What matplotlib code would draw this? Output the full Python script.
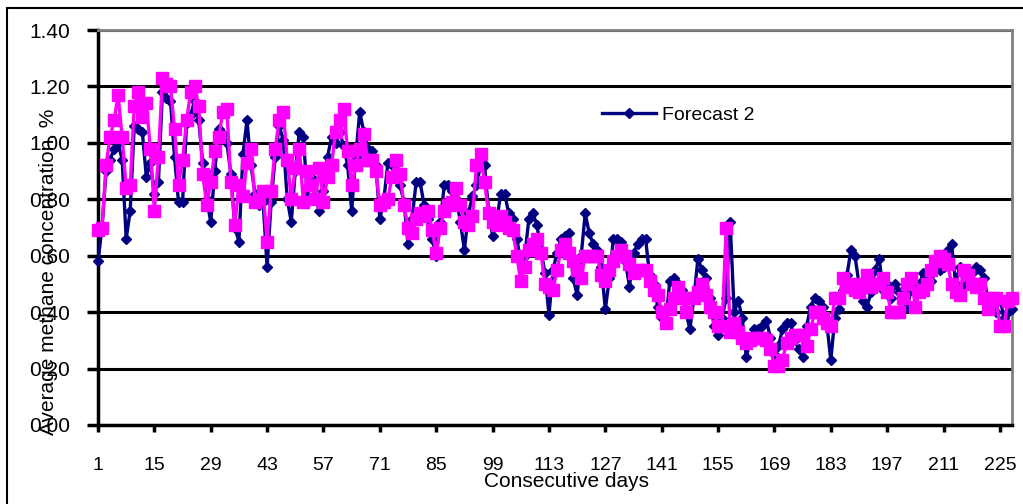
import matplotlib
matplotlib.use("Agg")
import matplotlib.pyplot as plt
import numpy as np
from matplotlib.patches import Rectangle

plt.rcParams["font.family"] = ["Liberation Sans", "DejaVu Sans"]

# values, one per day (days 1..228)
forecast_2 = [
    0.58, 0.70, 0.90, 0.94, 0.98, 1.00, 0.94, 0.66, 0.76, 1.06,
    1.05, 1.04, 0.88, 0.93, 0.82, 0.86, 1.18, 1.16, 1.15, 0.95,
    0.79, 0.79, 1.07, 1.10, 1.15, 1.08, 0.93, 0.80, 0.72, 0.90,
    1.05, 1.03, 1.00, 0.89, 0.70, 0.65, 0.96, 1.08, 0.92, 0.82,
    0.78, 0.79, 0.56, 0.79, 0.95, 1.06, 1.01, 0.80, 0.72, 0.90,
    1.04, 1.02, 0.81, 0.88, 0.80, 0.76, 0.83, 0.95, 1.02, 1.00,
    1.04, 0.99, 0.92, 0.76, 0.95, 1.11, 1.04, 0.98, 0.97, 0.92,
    0.73, 0.80, 0.93, 0.92, 0.94, 0.85, 0.79, 0.64, 0.73, 0.86,
    0.86, 0.78, 0.73, 0.66, 0.60, 0.72, 0.85, 0.85, 0.83, 0.80,
    0.72, 0.62, 0.75, 0.81, 0.85, 0.92, 0.92, 0.76, 0.67, 0.72,
    0.82, 0.82, 0.75, 0.73, 0.66, 0.58, 0.60, 0.73, 0.75, 0.71,
    0.62, 0.54, 0.39, 0.55, 0.61, 0.66, 0.67, 0.68, 0.52, 0.46,
    0.60, 0.75, 0.68, 0.64, 0.62, 0.56, 0.41, 0.52, 0.66, 0.66,
    0.65, 0.58, 0.49, 0.61, 0.64, 0.66, 0.66, 0.53, 0.50, 0.42,
    0.38, 0.36, 0.51, 0.52, 0.50, 0.48, 0.40, 0.34, 0.45, 0.59,
    0.55, 0.52, 0.45, 0.35, 0.32, 0.38, 0.45, 0.72, 0.40, 0.44,
    0.38, 0.24, 0.30, 0.34, 0.34, 0.35, 0.37, 0.31, 0.25, 0.28,
    0.34, 0.36, 0.36, 0.30, 0.27, 0.24, 0.35, 0.42, 0.45, 0.44,
    0.42, 0.36, 0.23, 0.38, 0.41, 0.48, 0.53, 0.62, 0.60, 0.50,
    0.44, 0.42, 0.47, 0.55, 0.59, 0.48, 0.50, 0.45, 0.50, 0.47,
    0.46, 0.42, 0.48, 0.50, 0.50, 0.54, 0.52, 0.51, 0.55, 0.55,
    0.56, 0.62, 0.64, 0.50, 0.56, 0.50, 0.52, 0.54, 0.56, 0.55,
    0.52, 0.45, 0.43, 0.40, 0.45, 0.38, 0.40, 0.41,
]

second_series = [
    0.69, 0.70, 0.92, 1.02, 1.08, 1.17, 1.02, 0.84, 0.85, 1.13,
    1.18, 1.09, 1.14, 0.98, 0.76, 0.95, 1.23, 1.21, 1.20, 1.05,
    0.85, 0.94, 1.08, 1.18, 1.20, 1.13, 0.89, 0.78, 0.86, 0.97,
    1.02, 1.11, 1.12, 0.86, 0.71, 0.85, 0.81, 0.93, 0.98, 0.79,
    0.80, 0.83, 0.65, 0.83, 0.98, 1.08, 1.11, 0.94, 0.80, 0.91,
    0.98, 0.79, 0.90, 0.85, 0.80, 0.91, 0.79, 0.88, 0.92, 1.04,
    1.08, 1.12, 0.97, 0.85, 0.92, 0.98, 1.03, 0.94, 0.94, 0.90,
    0.78, 0.79, 0.80, 0.88, 0.94, 0.89, 0.78, 0.70, 0.68, 0.73,
    0.75, 0.74, 0.76, 0.69, 0.61, 0.70, 0.76, 0.78, 0.79, 0.84,
    0.78, 0.72, 0.71, 0.74, 0.92, 0.96, 0.86, 0.75, 0.72, 0.71,
    0.74, 0.72, 0.70, 0.69, 0.60, 0.51, 0.56, 0.62, 0.64, 0.66,
    0.61, 0.50, 0.49, 0.48, 0.55, 0.62, 0.64, 0.61, 0.58, 0.55,
    0.52, 0.60, 0.60, 0.60, 0.60, 0.53, 0.51, 0.55, 0.58, 0.60,
    0.62, 0.60, 0.57, 0.54, 0.55, 0.55, 0.55, 0.51, 0.48, 0.46,
    0.40, 0.36, 0.41, 0.45, 0.49, 0.45, 0.40, 0.45, 0.45, 0.47,
    0.50, 0.46, 0.42, 0.40, 0.35, 0.35, 0.70, 0.33, 0.36, 0.33,
    0.31, 0.29, 0.30, 0.31, 0.31, 0.31, 0.30, 0.27, 0.21, 0.21,
    0.23, 0.29, 0.31, 0.32, 0.32, 0.32, 0.28, 0.34, 0.40, 0.40,
    0.38, 0.36, 0.35, 0.45, 0.45, 0.52, 0.49, 0.50, 0.48, 0.47,
    0.50, 0.53, 0.49, 0.50, 0.50, 0.52, 0.47, 0.40, 0.40, 0.40,
    0.45, 0.50, 0.52, 0.42, 0.47, 0.48, 0.50, 0.55, 0.58, 0.60,
    0.59, 0.57, 0.50, 0.47, 0.46, 0.55, 0.53, 0.50, 0.49, 0.50,
    0.45, 0.41, 0.45, 0.45, 0.35, 0.35, 0.44, 0.45,
]

days = np.arange(1, len(forecast_2) + 1)
day_ticks = list(range(1, 226, 14))
y_ticks = [0.0, 0.2, 0.4, 0.6, 0.8, 1.0, 1.2, 1.4]

fig = plt.figure(figsize=(10.23, 5.04), dpi=100)
ax = fig.add_axes([98 / 1023, 79 / 504, 914 / 1023, 395 / 504])

# outer chart frame
fig.add_artist(Rectangle((7 / 1023, -0.05), 1.2, 1.05 - 8 / 504,
                         transform=fig.transFigure, fill=False,
                         edgecolor="black", lw=1.5, clip_on=False))

ax.plot(days, forecast_2, color="#000080", lw=2.4, marker="D", ms=5.5,
        label="Forecast 2", zorder=3, clip_on=False)
ax.plot(days, second_series, color="#FF00FF", lw=2.4, marker="s", ms=8,
        zorder=4, clip_on=False)

ax.set_xlim(1, 228)
ax.set_ylim(0, 1.4)
ax.set_xticks(day_ticks)
ax.set_yticks(y_ticks)
ax.set_yticklabels([f"{v:.2f}" for v in y_ticks])
ax.tick_params(axis="y", length=8, width=2.5, pad=12, labelsize=15)
ax.tick_params(axis="x", length=5, width=2.5, pad=18, labelsize=14)

ax.yaxis.grid(True, color="black", lw=2.2)
ax.set_axisbelow(True)
for side in ["left", "bottom"]:
    ax.spines[side].set_color("black")
    ax.spines[side].set_linewidth(2.5)
for side in ["top", "right"]:
    ax.spines[side].set_color("#808080")
    ax.spines[side].set_linewidth(2)

ax.set_xlabel("Consecutive days", fontsize=15)
ax.xaxis.set_label_coords(0.513, -0.118)
ax.text(-0.0547, 0.387, "Average methane concentration, %", fontsize=15,
        rotation=90, ha="center", va="center", transform=ax.transAxes)

ax.legend(loc="center left", bbox_to_anchor=(0.5514, 0.785), frameon=False,
          fontsize=14, borderpad=0, borderaxespad=0, handlelength=2.8,
          handletextpad=0.3)

fig.savefig("out.png", dpi=100)
